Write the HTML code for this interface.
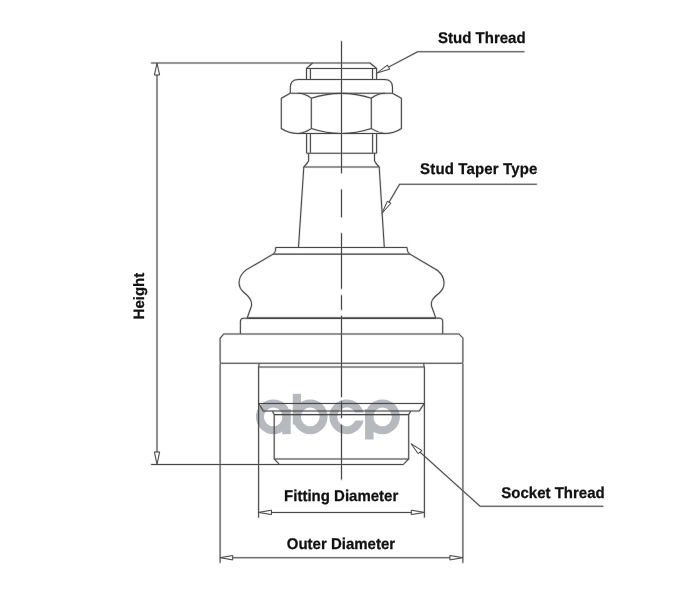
<!DOCTYPE html>
<html><head><meta charset="utf-8">
<style>
html,body{margin:0;padding:0;background:#fff;width:679px;height:594px;overflow:hidden}
svg{display:block;will-change:transform}
text{text-rendering:geometricPrecision;font-family:"Liberation Sans",sans-serif;font-weight:bold;font-size:15px;fill:#111;stroke:#111;stroke-width:0.25px}
</style></head><body>
<svg width="679" height="594" viewBox="0 0 679 594">
<rect width="679" height="594" fill="#fff"/>
<!-- watermark -->
<g fill="#b6babe">
  <path fill-rule="evenodd" d="M290.70,416.8 A17.4,17.4 0 1 1 255.90,416.8 A17.4,17.4 0 1 1 290.70,416.8 Z M282.70,416.8 A9.4,9.4 0 1 0 263.90,416.8 A9.4,9.4 0 1 0 282.70,416.8 Z"/>
  <rect x="282.3" y="409" width="8.40" height="25.20"/>
  <path fill-rule="evenodd" d="M327.60,416.8 A17.4,17.4 0 1 1 292.80,416.8 A17.4,17.4 0 1 1 327.60,416.8 Z M319.60,416.8 A9.4,9.4 0 1 0 300.80,416.8 A9.4,9.4 0 1 0 319.60,416.8 Z"/>
  <rect x="292.80" y="393.8" width="8.20" height="30.80"/>
  <path d="M363.59,412.6 A17.4,17.4 0 1 0 363.68,420.6 L355.30,420.6 A9.4,9.4 0 1 1 355.11,412.6 Z"/>
  <path fill-rule="evenodd" d="M399.90,416.8 A17.4,17.4 0 1 1 365.10,416.8 A17.4,17.4 0 1 1 399.90,416.8 Z M391.90,416.8 A9.4,9.4 0 1 0 373.10,416.8 A9.4,9.4 0 1 0 391.90,416.8 Z"/>
  <rect x="365.10" y="409" width="8.50" height="30.50"/>
</g>
<g opacity="0.11" fill="none" stroke="#000" stroke-width="2.4" stroke-linejoin="round" stroke-linecap="round">
  <!-- center line -->
  <path d="M341.5,41.3 V173.3 M341.5,189.5 V217.3 M341.5,233.2 V288.8 M341.5,295.3 V309.7 M341.5,315.8 V397 M341.5,401.4 V418 M341.5,424.8 V479.6"/>
  <!-- height dimension -->
  <path d="M151.2,63 H370 L376.6,68.4 M157,75 V452"/>
  <path d="M157,63 L159.6,75 H154.4 Z M157,464.5 L159.6,452 H154.4 Z" stroke-width="1.6"/>
  <path d="M151.2,464.5 H403.3"/>
  <!-- stud thread top -->
  <path d="M312.6,63 L306.5,68.4 V79.5 M306.5,68.4 H376.6 V79.5 M310.4,68.4 V79.5 M372.5,68.4 V79.5"/>
  <!-- washer -->
  <path d="M290.3,93.3 V87.5 Q290.3,79.5 298.3,79.5 H384.5 Q392.5,79.5 392.5,87.5 V93.3 H290.3"/>
  <!-- hex nut -->
  <path d="M290.3,93.3 L281.3,98.3 V128.5 Q289,133.6 298,133.5 Q305,132.8 311.3,128.6 V98.2 Q305,93.4 298,93.3"/>
  <path d="M311.3,98.2 Q341.5,88.6 371.3,98.2 M311.3,128.6 Q341.5,138.4 371.3,128.6"/>
  <path d="M392.5,93.3 L401.4,98.3 V128.5 Q394,133.6 385,133.5 Q378,132.8 371.3,128.6 V98.2 Q378,93.4 385,93.3"/>
  <path d="M298,133.5 H385"/>
  <!-- shank -->
  <path d="M306.6,133.5 V153.3 M310.4,133.5 V153.3 M372.6,133.5 V153.3 M376.6,133.5 V153.3 M306.6,153.3 H376.6"/>
  <path d="M308.6,153.3 V160.8 Q307.5,163.5 303.8,167 H379.2 Q375.5,163.5 374.5,160.8 V153.3"/>
  <!-- taper -->
  <path d="M303.8,167 L298.5,247.4 M379.2,167 L384.3,247.4"/>
  <!-- boot top plate -->
  <path d="M275.6,247.4 H407 M275.6,247.4 V249.7 Q275.4,252.5 273.2,254.1 H409.9 Q407.5,252.5 407.2,249.7 V247.4"/>
  <!-- boot profile left -->
  <path d="M273.2,254.1 L246.1,269.9 C237.3,277 237,287 244,292.5 C251,298 252.5,302 251.3,306.5 L247.1,318.2"/>
  <!-- boot profile right -->
  <path d="M409.9,254.1 L437.6,270.5 C445.7,277.5 446,287 439.3,293 C432,298.5 430.5,302 431.7,306.5 L435.8,318.1"/>
  <!-- boot ring -->
  <path d="M247.1,318.1 H435.8" stroke-width="3.4"/>
  <path d="M247.1,318.2 H243.5 Q240.4,318.5 240.4,321.5 V334 M435.8,318.1 H439.5 Q442.7,318.5 442.7,321.5 V334"/>
  <!-- flange -->
  <path d="M223.7,334 H459 L462.9,338 V361.7 Q462.9,363.2 461.4,363.2 H221.6 Q220.1,363.2 220.1,361.7 V338.3 Z"/>
  <path d="M220.1,363.2 V562.8 M462.9,363.2 V562.8"/>
  <!-- lower body -->
  <path d="M259.3,363.2 L258.6,367 H424.2 L423.6,363.2 M258.6,367 V517.6 M424.4,367 V517.4"/>
  <path d="M258.6,403.4 H424.4 M258.6,403.4 L263.3,411 H419.2 L424.4,403.4 M263.3,411 H272.4 L274.2,414.6 H408.6 L410.9,411 M274.2,414.6 V458.9 H408.7 V414.6 M274.2,458.9 L279.5,464.5 M408.7,458.9 L403.3,464.5"/>
  <!-- fitting diameter -->
  <path d="M271.5,512.4 H411.3"/>
  <path d="M258.6,512.4 L271.5,510.2 V514.6 Z M424.4,512.4 L411.3,510.2 V514.6 Z" stroke-width="1.6"/>
  <!-- outer diameter -->
  <path d="M232.7,557.7 H449.9"/>
  <path d="M220.1,557.7 L232.7,555.5 V559.9 Z M462.9,557.7 L449.9,555.5 V559.9 Z" stroke-width="1.6"/>
  <!-- leaders -->
  <path d="M524.3,51.8 H417.6 L388.5,67.1"/>
  <path d="M377.1,73 L387.4,65.1 L389.7,69.1 Z" stroke-width="1.6"/>
  <path d="M536.8,184.2 H399.6 L389,202.3"/>
  <path d="M382,213.3 L387.3,201.3 L390.9,203.2 Z" stroke-width="1.6"/>
  <path d="M603.2,506.3 H480.2 L420,452.1"/>
  <path d="M411.2,443.8 L418,453.6 L422,450.6 Z" stroke-width="1.6"/>
</g>
<g fill="none" stroke="#484848" stroke-width="1.05" stroke-linejoin="round">
  <!-- center line -->
  <path d="M341.5,41.3 V173.3 M341.5,189.5 V217.3 M341.5,233.2 V288.8 M341.5,295.3 V309.7 M341.5,315.8 V397 M341.5,401.4 V418 M341.5,424.8 V479.6"/>
  <!-- height dimension -->
  <path d="M151.2,63 H370 L376.6,68.4 M157,75 V452"/>
  <path d="M157,63 L159.6,75 H154.4 Z M157,464.5 L159.6,452 H154.4 Z" stroke-width="1"/>
  <path d="M151.2,464.5 H403.3"/>
  <!-- stud thread top -->
  <path d="M312.6,63 L306.5,68.4 V79.5 M306.5,68.4 H376.6 V79.5 M310.4,68.4 V79.5 M372.5,68.4 V79.5"/>
  <!-- washer -->
  <path d="M290.3,93.3 V87.5 Q290.3,79.5 298.3,79.5 H384.5 Q392.5,79.5 392.5,87.5 V93.3 H290.3"/>
  <!-- hex nut -->
  <path d="M290.3,93.3 L281.3,98.3 V128.5 Q289,133.6 298,133.5 Q305,132.8 311.3,128.6 V98.2 Q305,93.4 298,93.3"/>
  <path d="M311.3,98.2 Q341.5,88.6 371.3,98.2 M311.3,128.6 Q341.5,138.4 371.3,128.6"/>
  <path d="M392.5,93.3 L401.4,98.3 V128.5 Q394,133.6 385,133.5 Q378,132.8 371.3,128.6 V98.2 Q378,93.4 385,93.3"/>
  <path d="M298,133.5 H385"/>
  <!-- shank -->
  <path d="M306.6,133.5 V153.3 M310.4,133.5 V153.3 M372.6,133.5 V153.3 M376.6,133.5 V153.3 M306.6,153.3 H376.6"/>
  <path d="M308.6,153.3 V160.8 Q307.5,163.5 303.8,167 H379.2 Q375.5,163.5 374.5,160.8 V153.3"/>
  <!-- taper -->
  <path d="M303.8,167 L298.5,247.4 M379.2,167 L384.3,247.4"/>
  <!-- boot top plate -->
  <path d="M275.6,247.4 H407 M275.6,247.4 V249.7 Q275.4,252.5 273.2,254.1 H409.9 Q407.5,252.5 407.2,249.7 V247.4"/>
  <!-- boot profile left -->
  <path d="M273.2,254.1 L246.1,269.9 C237.3,277 237,287 244,292.5 C251,298 252.5,302 251.3,306.5 L247.1,318.2"/>
  <!-- boot profile right -->
  <path d="M409.9,254.1 L437.6,270.5 C445.7,277.5 446,287 439.3,293 C432,298.5 430.5,302 431.7,306.5 L435.8,318.1"/>
  <!-- boot ring -->
  <path d="M247.1,318.1 H435.8" stroke-width="1.7"/>
  <path d="M247.1,318.2 H243.5 Q240.4,318.5 240.4,321.5 V334 M435.8,318.1 H439.5 Q442.7,318.5 442.7,321.5 V334"/>
  <!-- flange -->
  <path d="M223.7,334 H459 L462.9,338 V361.7 Q462.9,363.2 461.4,363.2 H221.6 Q220.1,363.2 220.1,361.7 V338.3 Z"/>
  <path d="M220.1,363.2 V562.8 M462.9,363.2 V562.8"/>
  <!-- lower body -->
  <path d="M259.3,363.2 L258.6,367 H424.2 L423.6,363.2 M258.6,367 V517.6 M424.4,367 V517.4"/>
  <path d="M258.6,403.4 H424.4 M258.6,403.4 L263.3,411 H419.2 L424.4,403.4 M263.3,411 H272.4 L274.2,414.6 H408.6 L410.9,411 M274.2,414.6 V458.9 H408.7 V414.6 M274.2,458.9 L279.5,464.5 M408.7,458.9 L403.3,464.5"/>
  <!-- fitting diameter -->
  <path d="M271.5,512.4 H411.3"/>
  <path d="M258.6,512.4 L271.5,510.2 V514.6 Z M424.4,512.4 L411.3,510.2 V514.6 Z" stroke-width="1"/>
  <!-- outer diameter -->
  <path d="M232.7,557.7 H449.9"/>
  <path d="M220.1,557.7 L232.7,555.5 V559.9 Z M462.9,557.7 L449.9,555.5 V559.9 Z" stroke-width="1"/>
  <!-- leaders -->
  <path d="M524.3,51.8 H417.6 L388.5,67.1"/>
  <path d="M377.1,73 L387.4,65.1 L389.7,69.1 Z" stroke-width="1"/>
  <path d="M536.8,184.2 H399.6 L389,202.3"/>
  <path d="M382,213.3 L387.3,201.3 L390.9,203.2 Z" stroke-width="1"/>
  <path d="M603.2,506.3 H480.2 L420,452.1"/>
  <path d="M411.2,443.8 L418,453.6 L422,450.6 Z" stroke-width="1"/>
</g>
<g transform="translate(438.1,42.9) scale(1,1.035)"><text x="0" y="0">Stud Thread</text></g>
<g transform="translate(420.1,173.6) scale(1,1.035)"><text x="0" y="0" textLength="117.3" lengthAdjust="spacing">Stud Taper Type</text></g>
<g transform="translate(284.1,501.2) scale(1,1.035)"><text x="0" y="0">Fitting Diameter</text></g>
<g transform="translate(286.8,549.4) scale(1,1.035)"><text x="0" y="0" textLength="108.3" lengthAdjust="spacing">Outer Diameter</text></g>
<g transform="translate(501.3,498.2) scale(1,1.035)"><text x="0" y="0">Socket Thread</text></g>
<g transform="translate(144.4,319.4) rotate(-90)"><text x="0" y="0" textLength="46.6" lengthAdjust="spacing">Height</text></g>
</svg>
</body></html>
